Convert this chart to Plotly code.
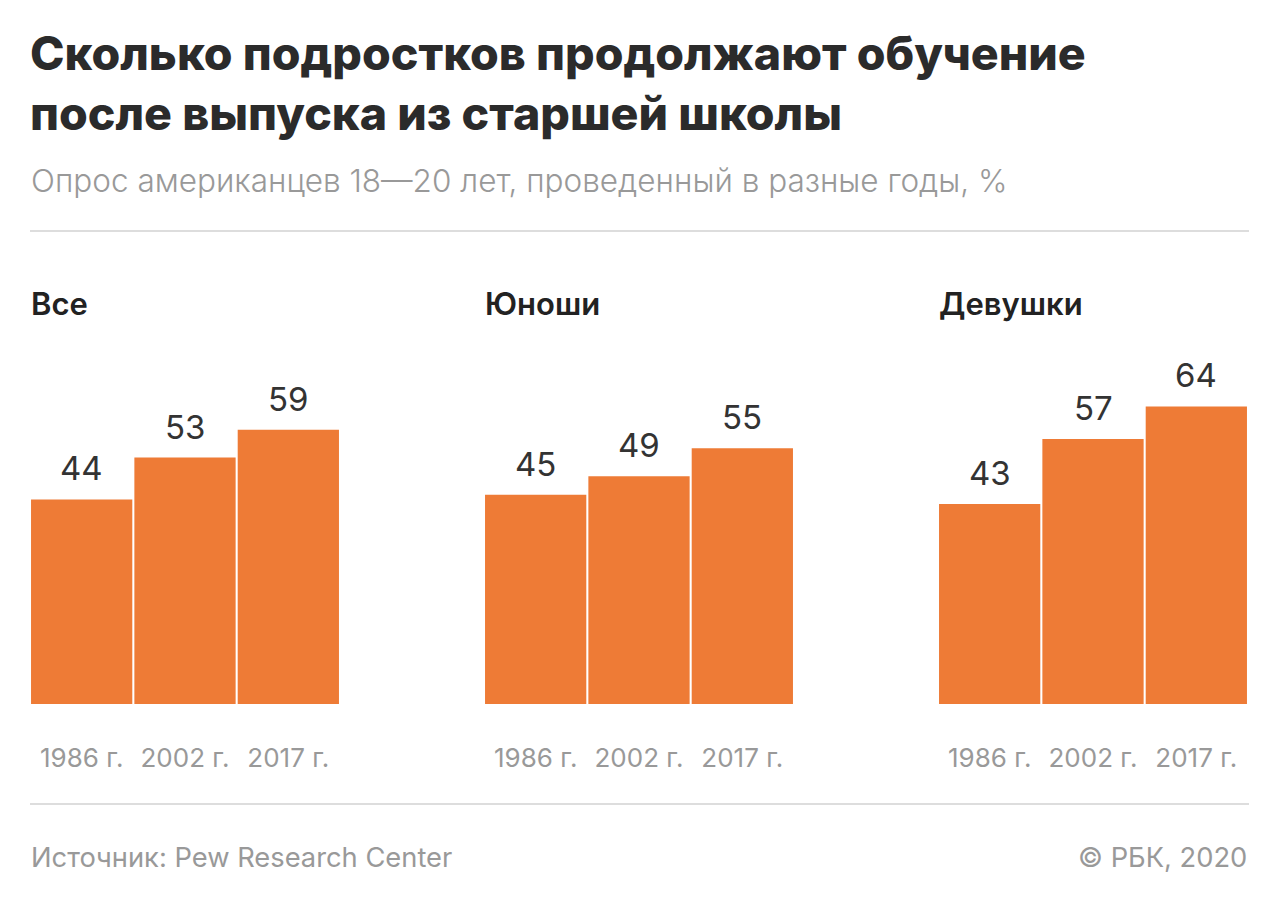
import plotly.graph_objects as go

# ---- data ----
years = ["1986 г.", "2002 г.", "2017 г."]
panel_titles = ["Все", "Юноши", "Девушки"]
vals_all = [44, 53, 59]
vals_boys = [45, 49, 55]
vals_girls = [43, 57, 64]

title_line1 = "Сколько подростков продолжают обучение"
title_line2 = "после выпуска из старшей школы"
subtitle_text = "Опрос американцев 18—20 лет, проведенный в разные годы, %"
source_text = "Источник: Pew Research Center"
copyright_text = "© РБК, 2020"

W, H = 1280, 908
OFF = 8  # page body margin compensation
ORANGE = "#EE7B36"
GREY = "#999999"
DARK = "#222222"
FONT = "Inter"


def px(x):
    return (x - OFF) / W


def py(y):
    return 1 - (y - OFF) / H


panels_px = [(30, 340), (484, 794), (938, 1248)]
plot_top_px, plot_bot_px = 239, 704

series = [vals_all, vals_boys, vals_girls]
axis_ids = ["x", "x2", "x3"]

fig = go.Figure()
for vals, ax in zip(series, axis_ids):
    fig.add_trace(go.Bar(x=years, y=vals, xaxis=ax, yaxis="y",
                         marker=dict(color=ORANGE, line=dict(width=0)),
                         hoverinfo="skip", showlegend=False))

layout = dict(
    width=W, height=H,
    margin=dict(l=0, r=0, t=0, b=0),
    paper_bgcolor="white", plot_bgcolor="white",
    bargap=0.02,
    font=dict(family=FONT),
    yaxis=dict(range=[0, 100], domain=[py(plot_bot_px), py(plot_top_px)],
               visible=False, fixedrange=True),
)
for i, (ax, (x0, x1)) in enumerate(zip(axis_ids, panels_px)):
    key = "xaxis" if i == 0 else f"xaxis{i+1}"
    layout[key] = dict(domain=[px(x0), px(x1)], anchor="y",
                       showline=False, showgrid=False, zeroline=False,
                       ticks="outside", ticklen=31, tickcolor="rgba(0,0,0,0)",
                       tickfont=dict(family=FONT, size=26, color=GREY),
                       fixedrange=True)
fig.update_layout(**layout)

ann = []
# value labels
for vals, ax in zip(series, axis_ids):
    for c, v in zip(years, vals):
        ann.append(dict(x=c, y=v, xref=ax, yref="y", text=str(v), showarrow=False,
                        yanchor="bottom", yshift=9,
                        font=dict(family=FONT, size=33, color="#333333")))
# panel titles
for t, (x0, x1) in zip(panel_titles, panels_px):
    ann.append(dict(x=px(x0 - 1), y=py(303), xref="paper", yref="paper", text=t,
                    showarrow=False, xanchor="left", yanchor="middle",
                    font=dict(family=FONT, size=31, color=DARK, weight=600)))
# title (one text, two lines)
ann.append(dict(x=px(28), y=py(83), xref="paper", yref="paper",
                text=title_line1 + "<br>" + title_line2,
                showarrow=False, xanchor="left", yanchor="middle", align="left",
                font=dict(family=FONT, size=46.5, color="#2b2b2b", weight=800)))
# subtitle
ann.append(dict(x=px(29), y=py(181), xref="paper", yref="paper", text=subtitle_text,
                showarrow=False, xanchor="left", yanchor="middle",
                font=dict(family=FONT, size=31.5, color=GREY, weight=300)))
# footer
ann.append(dict(x=px(29), y=py(857), xref="paper", yref="paper", text=source_text,
                showarrow=False, xanchor="left", yanchor="middle",
                font=dict(family=FONT, size=27.3, color=GREY)))
ann.append(dict(x=px(1249), y=py(857), xref="paper", yref="paper", text=copyright_text,
                showarrow=False, xanchor="right", yanchor="middle",
                font=dict(family=FONT, size=27.3, color=GREY)))
fig.update_layout(annotations=ann)

# separators
for ypx in (231, 804):
    fig.add_shape(type="line", xref="paper", yref="paper",
                  x0=px(30), x1=px(1249), y0=py(ypx), y1=py(ypx),
                  line=dict(color="#DDDDDD", width=2))

fig.write_html("out.html")
